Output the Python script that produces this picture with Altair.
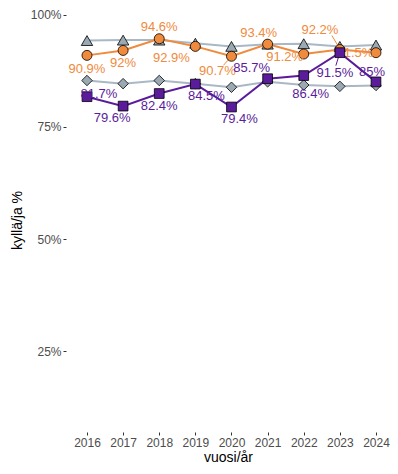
import altair as alt
import pandas as pd

years = [2016, 2017, 2018, 2019, 2020, 2021, 2022, 2023, 2024]
purple_vals = [81.7, 79.6, 82.4, 84.5, 79.4, 85.7, 86.4, 91.5, 85.0]
orange_vals = [90.9, 92.0, 94.6, 92.9, 90.7, 93.4, 91.2, 92.2, 91.5]
gray_tri_vals = [94.2, 94.3, 94.3, 93.6, 92.9, 93.4, 93.5, 92.9, 93.2]
gray_dia_vals = [85.3, 84.6, 85.3, 84.6, 83.8, 85.0, 84.3, 84.0, 84.2]

# label nudges (pixels)
orange_dx = [0, 0, 0, -24, -14, -9, -19, -20, -21]
orange_dy = [14, 13, -12, 12, 15, -11, 3, -20, 0]
purple_dx = [12, -11, 0, 11, 8, -16, 7, -5, -4]
purple_dy = [-3, 12, 12, 12, 12, -11, 18, 20, -10]

# connector segments (start dx, dy, end dx, dy) keyed by index
orange_seg = {4: (0, 0, -8, 9), 7: (-8, -14, -2, -4)}
purple_seg = {7: (0, 0, -4, 13)}

ORANGE = "#F08A3C"
PURPLE = "#5A1C9A"
GRAYLINE = "#A8B8C4"
GRAYFILL = "#9BA9B3"
FONT = "Liberation Sans"


def lab(v):
    return f"{v:g}%"


def frame(vals):
    d = pd.DataFrame({"year": years, "value": vals})
    d["label"] = [lab(v) for v in vals]
    return d


xscale = alt.Scale(domain=[2015.419, 2024.388], nice=False, zero=False)
yscale = alt.Scale(domain=[7.02, 101.45], nice=False, zero=False)

X = alt.X("year:Q", scale=xscale, title="vuosi/år",
          axis=alt.Axis(values=years, format="d"))
Y = alt.Y("value:Q", scale=yscale, title="kyllä/ja %",
          axis=alt.Axis(values=[25, 50, 75, 100], labelExpr="datum.value + '%'"))


def series(vals, line_color, fill, shape, size):
    d = frame(vals)
    base = alt.Chart(d).encode(x=X, y=Y)
    line = base.mark_line(color=line_color, strokeWidth=2)
    pts = base.mark_point(shape=shape, size=size, filled=True, fill=fill,
                          stroke="black", strokeWidth=0.8, opacity=1)
    return line, pts


def segs(vals, color, segd):
    out = []
    d = frame(vals)
    for i, (sx, sy, ex, ey) in segd.items():
        out.append(
            alt.Chart(d).transform_filter(alt.datum.year == years[i])
            .mark_rule(color=color, strokeWidth=1, xOffset=sx, yOffset=sy,
                       x2Offset=ex, y2Offset=ey)
            .encode(x=X, y=Y, x2="year:Q", y2="value:Q")
        )
    return out


def labels(vals, color, dx, dy):
    d = frame(vals)
    out = []
    for i, yr in enumerate(years):
        out.append(
            alt.Chart(d).transform_filter(alt.datum.year == yr)
            .mark_text(color=color, fontSize=13, font=FONT, dx=dx[i], dy=dy[i])
            .encode(x=X, y=Y, text="label:N")
        )
    return out


tri_line, tri_pts = series(gray_tri_vals, GRAYLINE, GRAYFILL, "triangle-up", 130)
dia_line, dia_pts = series(gray_dia_vals, GRAYLINE, GRAYFILL, "diamond", 110)
or_line, or_pts = series(orange_vals, ORANGE, ORANGE, "circle", 100)
pu_line, pu_pts = series(purple_vals, PURPLE, PURPLE, "square", 95)

layers = [tri_line, dia_line, tri_pts, dia_pts]
layers += segs(orange_vals, ORANGE, orange_seg)
layers += [or_line, or_pts]
layers += labels(orange_vals, ORANGE, orange_dx, orange_dy)
layers += segs(purple_vals, PURPLE, purple_seg)
layers += [pu_line, pu_pts]
layers += labels(purple_vals, PURPLE, purple_dx, purple_dy)

chart = alt.layer(*layers).properties(
    width=324, height=424,
    autosize=alt.AutoSizeParams(type="none"),
    padding={"left": 58, "top": 0, "right": 0, "bottom": 34},
).configure_view(stroke=None).configure_axis(
    grid=False, domain=False, ticks=True, tickSize=3, tickColor="#333333",
    labelColor="#4D4D4D", labelFont=FONT, labelFontSize=12,
    titleFont=FONT, titleFontSize=14, titleFontWeight="normal", titleColor="black",
    labelPadding=2,
).configure_axisY(titlePadding=6).configure_axisX(titlePadding=2, labelPadding=2)

chart.save("out.html", embed_options={"renderer": "svg", "actions": False})
